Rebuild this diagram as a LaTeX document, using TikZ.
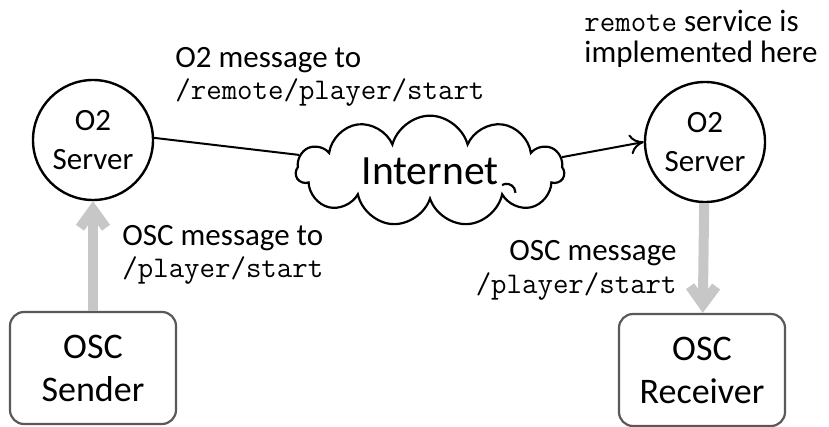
\documentclass[tikz,border=0pt]{standalone}
\usepackage{fontspec}
\setmainfont{Carlito}
\usetikzlibrary{shapes.symbols,arrows.meta}

\begin{document}
\begin{tikzpicture}[x=0.5pt,y=-0.5pt,
        server/.style={circle,draw,line width=1.2pt,minimum size=60pt,inner sep=0pt,align=center,font=\fontsize{15.5}{19.5}\selectfont},
        oscbox/.style={draw=black!65,line width=1.1pt,rounded corners=7pt,minimum width=83pt,minimum height=56pt,align=center,font=\fontsize{18}{21.5}\selectfont},
        lbl/.style={inner sep=0pt,font=\fontsize{15.5}{16}\selectfont},
        code/.style={inner sep=0pt,font=\fontsize{15}{16}\ttfamily},
        osc/.style={line width=5pt,draw=black!22,-{Straight Barb[length=9pt,width=13pt]}},
        o2/.style={line width=1pt,black}]
        \useasboundingbox (0,0) rectangle (829,427);

        \node[server] (srvL) at (93,140) {O2\\Server};
        \node[server] (srvR) at (705,142) {O2\\Server};
        \node[oscbox] (sender) at (93,368) {OSC\\Sender};
        \node[oscbox] (receiver) at (702,370) {OSC\\Receiver};
        \node[cloud,draw,line width=1.1pt,cloud puffs=11,aspect=2.7,inner sep=0pt,minimum width=134pt,minimum height=54pt,font=\fontsize{20.8}{24}\selectfont] (net) at (430,171) {Internet};
        \draw[line width=1.1pt] ([shift={(72,14)}]net.center) arc (120:0:4.5pt);

        \draw[o2] (srvL.2) -- (net.173);
        \draw[o2,-{To[length=7pt,width=10pt]}] (net.6) -- (srvR.180);
        \draw[osc] (sender) -- (srvL);
        \draw[osc] (srvR) -- (receiver);

        \node[lbl,anchor=base west] (o2msg) at (175,68) {O2 message to};
        \node[code,anchor=base west] (o2path) at (175,100) {/remote/player/start};
        \node[lbl,anchor=base west] (svc) at (584,32) {{\fontsize{15}{16}\ttfamily remote} service is};
        \node[lbl,anchor=base west] (impl) at (584,63) {implemented here};
        \node[lbl,anchor=base west] (oscto) at (122,246) {OSC message to};
        \node[code,anchor=base west] (osctopath) at (122,278) {/player/start};
        \node[lbl,anchor=base east] (oscmsg) at (677,260) {OSC message};
        \node[code,anchor=base east] (oscmsgpath) at (677,293) {/player/start};

    \end{tikzpicture}
\end{document}
